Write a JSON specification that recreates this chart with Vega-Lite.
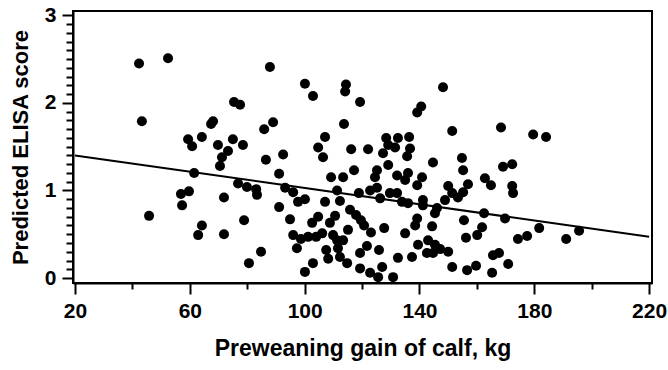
{
  "$schema": "https://vega.github.io/schema/vega-lite/v6.json",
  "width": 579,
  "height": 272,
  "autosize": "none",
  "padding": {"left": 73, "top": 11, "right": 16, "bottom": 87},
  "background": "white",
  "config": {
    "view": {"stroke": "black", "strokeWidth": 2},
    "font": "Liberation Sans",
    "axis": {"grid": false, "domainColor": "black", "domainWidth": 2, "tickColor": "black", "tickWidth": 2, "labelColor": "black", "titleColor": "black", "labelFont": "Liberation Sans", "titleFont": "Liberation Sans", "labelFontWeight": "bold", "titleFontWeight": "bold", "labelFontSize": 21, "titleFontSize": 23, "labelFlush": false, "labelOverlap": false, "labelBound": false}
  },
  "datasets": {
    "calves": [
      {"gain": 42.3, "elisa": 2.45}, {"gain": 52.4, "elisa": 2.51}, {"gain": 43.3, "elisa": 1.79}, {"gain": 75.4, "elisa": 2.01},
      {"gain": 77.5, "elisa": 1.98}, {"gain": 68.1, "elisa": 1.79}, {"gain": 67.4, "elisa": 1.76}, {"gain": 59.4, "elisa": 1.585},
      {"gain": 60.8, "elisa": 1.505}, {"gain": 64.2, "elisa": 1.61}, {"gain": 69.8, "elisa": 1.52}, {"gain": 75.0, "elisa": 1.585},
      {"gain": 78.5, "elisa": 1.52}, {"gain": 73.3, "elisa": 1.45}, {"gain": 71.2, "elisa": 1.38}, {"gain": 70.5, "elisa": 1.28},
      {"gain": 85.9, "elisa": 1.70}, {"gain": 89.0, "elisa": 1.78}, {"gain": 61.5, "elisa": 1.20}, {"gain": 76.8, "elisa": 1.08},
      {"gain": 79.9, "elisa": 1.04}, {"gain": 83.1, "elisa": 1.015}, {"gain": 83.4, "elisa": 0.95}, {"gain": 56.9, "elisa": 0.96},
      {"gain": 59.7, "elisa": 0.99}, {"gain": 57.3, "elisa": 0.83}, {"gain": 71.9, "elisa": 0.92}, {"gain": 45.8, "elisa": 0.71},
      {"gain": 78.9, "elisa": 0.66}, {"gain": 64.2, "elisa": 0.60}, {"gain": 62.9, "elisa": 0.49}, {"gain": 71.9, "elisa": 0.50},
      {"gain": 80.6, "elisa": 0.17}, {"gain": 84.8, "elisa": 0.30}, {"gain": 87.9, "elisa": 2.41}, {"gain": 100.1, "elisa": 2.22},
      {"gain": 102.9, "elisa": 2.08}, {"gain": 114.4, "elisa": 2.21}, {"gain": 114.1, "elisa": 2.13}, {"gain": 119.3, "elisa": 2.01},
      {"gain": 148.2, "elisa": 2.18}, {"gain": 140.6, "elisa": 1.96}, {"gain": 139.2, "elisa": 1.89}, {"gain": 113.7, "elisa": 1.76},
      {"gain": 107.1, "elisa": 1.61}, {"gain": 104.7, "elisa": 1.49}, {"gain": 106.4, "elisa": 1.38}, {"gain": 116.2, "elisa": 1.47},
      {"gain": 122.1, "elisa": 1.47}, {"gain": 128.4, "elisa": 1.60}, {"gain": 132.5, "elisa": 1.60}, {"gain": 136.4, "elisa": 1.61},
      {"gain": 129.1, "elisa": 1.52}, {"gain": 131.5, "elisa": 1.49}, {"gain": 127.3, "elisa": 1.425}, {"gain": 136.7, "elisa": 1.48},
      {"gain": 135.7, "elisa": 1.39}, {"gain": 151.4, "elisa": 1.68}, {"gain": 144.7, "elisa": 1.32}, {"gain": 86.5, "elisa": 1.35},
      {"gain": 92.5, "elisa": 1.41}, {"gain": 91.1, "elisa": 1.19}, {"gain": 117.2, "elisa": 1.23}, {"gain": 109.2, "elisa": 1.15},
      {"gain": 113.4, "elisa": 1.15}, {"gain": 125.2, "elisa": 1.23}, {"gain": 124.5, "elisa": 1.15}, {"gain": 129.1, "elisa": 1.29},
      {"gain": 132.2, "elisa": 1.17}, {"gain": 135.0, "elisa": 1.12}, {"gain": 136.0, "elisa": 1.20}, {"gain": 140.9, "elisa": 1.15},
      {"gain": 139.2, "elisa": 1.06}, {"gain": 111.3, "elisa": 1.00}, {"gain": 112.3, "elisa": 0.88}, {"gain": 118.9, "elisa": 0.97},
      {"gain": 122.8, "elisa": 1.00}, {"gain": 125.2, "elisa": 1.03}, {"gain": 126.3, "elisa": 0.91}, {"gain": 129.7, "elisa": 0.97},
      {"gain": 132.2, "elisa": 0.97}, {"gain": 133.9, "elisa": 0.87}, {"gain": 136.0, "elisa": 0.855}, {"gain": 141.2, "elisa": 0.89},
      {"gain": 141.2, "elisa": 0.83}, {"gain": 146.1, "elisa": 0.80}, {"gain": 145.4, "elisa": 0.74}, {"gain": 150.0, "elisa": 1.05},
      {"gain": 148.9, "elisa": 0.89}, {"gain": 151.4, "elisa": 0.97}, {"gain": 153.4, "elisa": 0.92}, {"gain": 93.2, "elisa": 1.03},
      {"gain": 96.0, "elisa": 0.98}, {"gain": 100.1, "elisa": 0.90}, {"gain": 97.7, "elisa": 0.87}, {"gain": 91.1, "elisa": 0.81},
      {"gain": 107.1, "elisa": 0.87}, {"gain": 94.9, "elisa": 0.67}, {"gain": 102.6, "elisa": 0.63}, {"gain": 104.7, "elisa": 0.70},
      {"gain": 108.8, "elisa": 0.63}, {"gain": 110.6, "elisa": 0.71}, {"gain": 115.8, "elisa": 0.78}, {"gain": 117.9, "elisa": 0.72},
      {"gain": 119.6, "elisa": 0.66}, {"gain": 120.7, "elisa": 0.60}, {"gain": 127.7, "elisa": 0.57}, {"gain": 123.1, "elisa": 0.52},
      {"gain": 96.0, "elisa": 0.49}, {"gain": 98.7, "elisa": 0.445}, {"gain": 101.2, "elisa": 0.47}, {"gain": 104.0, "elisa": 0.47},
      {"gain": 106.1, "elisa": 0.51}, {"gain": 97.3, "elisa": 0.34}, {"gain": 109.9, "elisa": 0.49}, {"gain": 111.3, "elisa": 0.43},
      {"gain": 113.4, "elisa": 0.43}, {"gain": 115.1, "elisa": 0.55}, {"gain": 111.6, "elisa": 0.34}, {"gain": 107.5, "elisa": 0.32},
      {"gain": 108.2, "elisa": 0.22}, {"gain": 112.3, "elisa": 0.24}, {"gain": 114.8, "elisa": 0.17}, {"gain": 102.9, "elisa": 0.17},
      {"gain": 100.1, "elisa": 0.07}, {"gain": 121.7, "elisa": 0.365}, {"gain": 119.3, "elisa": 0.285}, {"gain": 125.9, "elisa": 0.32},
      {"gain": 119.3, "elisa": 0.11}, {"gain": 122.8, "elisa": 0.06}, {"gain": 127.0, "elisa": 0.125}, {"gain": 125.6, "elisa": 0.01},
      {"gain": 130.8, "elisa": 0.01}, {"gain": 139.2, "elisa": 0.68}, {"gain": 138.5, "elisa": 0.60}, {"gain": 144.4, "elisa": 0.59},
      {"gain": 135.0, "elisa": 0.51}, {"gain": 139.5, "elisa": 0.38}, {"gain": 143.0, "elisa": 0.43}, {"gain": 145.4, "elisa": 0.38},
      {"gain": 142.6, "elisa": 0.285}, {"gain": 144.7, "elisa": 0.285}, {"gain": 147.2, "elisa": 0.33}, {"gain": 150.0, "elisa": 0.30},
      {"gain": 132.5, "elisa": 0.23}, {"gain": 137.4, "elisa": 0.24}, {"gain": 151.4, "elisa": 0.125}, {"gain": 168.4, "elisa": 1.72},
      {"gain": 179.6, "elisa": 1.64}, {"gain": 184.1, "elisa": 1.61}, {"gain": 154.8, "elisa": 1.37}, {"gain": 155.2, "elisa": 1.23},
      {"gain": 169.1, "elisa": 1.27}, {"gain": 172.3, "elisa": 1.30}, {"gain": 156.9, "elisa": 1.07}, {"gain": 155.2, "elisa": 0.98},
      {"gain": 162.8, "elisa": 1.14}, {"gain": 164.9, "elisa": 1.06}, {"gain": 172.3, "elisa": 1.05}, {"gain": 172.6, "elisa": 0.97},
      {"gain": 162.5, "elisa": 0.74}, {"gain": 169.8, "elisa": 0.68}, {"gain": 155.5, "elisa": 0.66}, {"gain": 161.8, "elisa": 0.58},
      {"gain": 160.1, "elisa": 0.49}, {"gain": 156.2, "elisa": 0.46}, {"gain": 174.3, "elisa": 0.445}, {"gain": 177.5, "elisa": 0.48},
      {"gain": 181.7, "elisa": 0.57}, {"gain": 191.1, "elisa": 0.445}, {"gain": 195.6, "elisa": 0.54}, {"gain": 165.6, "elisa": 0.26},
      {"gain": 167.7, "elisa": 0.285}, {"gain": 156.6, "elisa": 0.09}, {"gain": 159.7, "elisa": 0.14}, {"gain": 165.3, "elisa": 0.06},
      {"gain": 170.9, "elisa": 0.16}
    ],
    "fit": [
      {"gain": 20, "elisa": 1.40},
      {"gain": 220, "elisa": 0.47}
    ]
  },
  "layer": [
    {
      "data": {"name": "calves"},
      "mark": {"type": "circle", "color": "black", "opacity": 1, "size": 100},
      "encoding": {
        "x": {"field": "gain", "type": "quantitative", "scale": {"domain": [19.3, 221], "nice": false, "zero": false},
              "axis": {"orient": "bottom", "values": [20, 60, 100, 140, 180, 220], "tickSize": 11, "labelPadding": 6, "title": "Preweaning gain of calf, kg", "titlePadding": 16, "format": "d"}},
        "y": {"field": "elisa", "type": "quantitative", "scale": {"domain": [-0.057, 3.05], "nice": false, "zero": false},
              "axis": {"orient": "left", "values": [0, 1, 2, 3], "tickSize": 11, "labelPadding": 6, "title": "Predicted ELISA score", "titleFontSize": 22, "titlePadding": 12, "format": "d"}}
      }
    },
    {
      "data": {"name": "fit"},
      "mark": {"type": "line", "color": "black", "strokeWidth": 2},
      "encoding": {
        "x": {"field": "gain", "type": "quantitative",
              "axis": {"orient": "bottom", "values": [40, 80, 120, 160, 200], "tickSize": 6, "labels": false, "domain": false, "title": null}},
        "y": {"field": "elisa", "type": "quantitative",
              "axis": {"orient": "left", "values": [0.1, 0.2, 0.3, 0.4, 0.5, 0.6, 0.7, 0.8, 0.9, 1.1, 1.2, 1.3, 1.4, 1.5, 1.6, 1.7, 1.8, 1.9, 2.1, 2.2, 2.3, 2.4, 2.5, 2.6, 2.7, 2.8, 2.9], "tickSize": 7, "labels": false, "domain": false, "title": null}}
      }
    }
  ],
  "resolve": {"axis": {"x": "independent", "y": "independent"}}
}
